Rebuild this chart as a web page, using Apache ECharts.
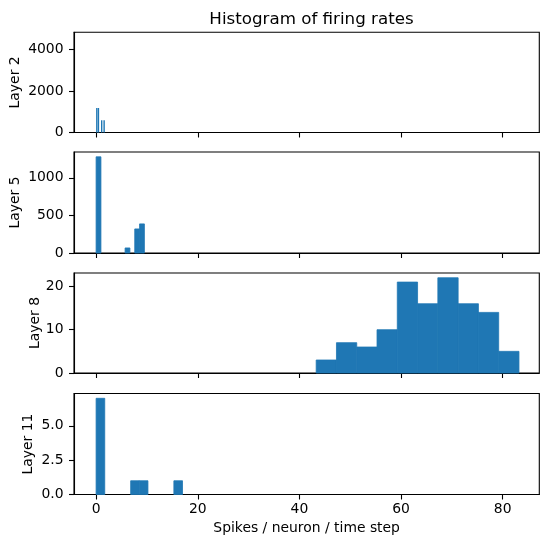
<!DOCTYPE html>
<html>
<head>
<meta charset="utf-8">
<script src="https://cdn.jsdelivr.net/npm/echarts@6/dist/echarts.min.js"></script>
<style>
html,body{margin:0;padding:0;background:#fff;}
#chart{width:549px;height:547px;}
</style>
</head>
<body>
<div id="chart"></div>
<script>
// ---- data ----
const layerNames = ['Layer 2', 'Layer 5', 'Layer 8', 'Layer 11'];

const edgesL2 = [0, 0.16, 0.32, 0.48, 0.64, 0.80, 0.96, 1.12, 1.28, 1.44, 1.60];
const countsL2 = [1180, 0, 1180, 0, 0, 0, 590, 0, 0, 590];

const edgesL5 = [0, 0.95, 1.9, 2.85, 3.8, 4.75, 5.7, 6.65, 7.6, 8.55, 9.5];
const countsL5 = [1280, 0, 0, 0, 0, 0, 67, 0, 320, 387];

const edgesL8 = [43.3, 47.29, 51.28, 55.27, 59.26, 63.25, 67.24, 71.23, 75.22, 79.21, 83.2];
const countsL8 = [3, 7, 6, 10, 21, 16, 22, 16, 14, 5];

const edgesL11 = [0, 1.7, 3.4, 5.1, 6.8, 8.5, 10.2, 11.9, 13.6, 15.3, 17.0];
const countsL11 = [7, 0, 0, 0, 1, 1, 0, 0, 0, 1];

const xTicks = [0, 20, 40, 60, 80];
const yTickSteps = [2000, 500, 10, 2.5];

const yMaxes = [4830, 1344, 23.1, 7.35];
const xMin = -4.35, xMax = 87.2;

// ---- build ----
const edgesAll = [edgesL2, edgesL5, edgesL8, edgesL11];
const countsAll = [countsL2, countsL5, countsL8, countsL11];
const yFormat = [v => String(v), v => String(v), v => String(v), v => v.toFixed(1)];

const gridTops = [32.3, 152, 273, 393.5];
const gridHeights = [100.2, 101, 100, 101];
const nameGaps = [52, 52, 32, 39];
const FONT = 'DejaVu Sans';
const BLUE = '#1f77b4';

const grids = [], xAxes = [], yAxes = [], series = [];
for (let i = 0; i < 4; i++) {
  grids.push({left: 74, right: 9.7, top: gridTops[i], height: gridHeights[i],
    show: true, borderColor: '#000', borderWidth: 1.1, containLabel: false,
    outerBoundsMode: 'none'});
  const last = i === 3;
  xAxes.push({
    gridIndex: i, type: 'value', min: xMin, max: xMax, position: 'bottom',
    axisLine: {show: true, onZero: false, lineStyle: {color: '#000', width: 1.1}},
    splitLine: {show: false},
    axisTick: {show: true, inside: false, length: 5, customValues: xTicks,
      lineStyle: {color: '#000', width: 1.1}},
    axisLabel: {show: last, customValues: xTicks, margin: 8, color: '#000',
      fontFamily: FONT, fontSize: 13.9},
    name: last ? 'Spikes / neuron / time step' : '',
    nameLocation: 'middle', nameGap: 27, nameMoveOverlap: false,
    nameTextStyle: {color: '#000', fontFamily: FONT, fontSize: 13.9}
  });
  yAxes.push({
    gridIndex: i, type: 'value', min: 0, max: yMaxes[i], interval: yTickSteps[i],
    position: 'left',
    axisLine: {show: true, onZero: false, lineStyle: {color: '#000', width: 1.1}},
    splitLine: {show: false},
    axisTick: {show: true, inside: false, length: 5,
      lineStyle: {color: '#000', width: 1.1}},
    axisLabel: {show: true, showMaxLabel: false, margin: 10.5, color: '#000',
      fontFamily: FONT, fontSize: 13.9, formatter: yFormat[i]},
    name: layerNames[i], nameLocation: 'middle', nameGap: nameGaps[i], nameRotate: 90,
    nameMoveOverlap: false,
    nameTextStyle: {color: '#000', fontFamily: FONT, fontSize: 13.9}
  });
  const edges = edgesAll[i], counts = countsAll[i];
  const data = counts.map((c, k) => [edges[k], edges[k + 1], c]);
  series.push({
    type: 'custom', xAxisIndex: i, yAxisIndex: i, data: data, silent: true,
    renderItem: function (params, api) {
      const p0 = api.coord([api.value(0), 0]);
      const p1 = api.coord([api.value(1), api.value(2)]);
      let w = p1[0] - p0[0];
      const thin = w < 3;
      if (w < 1.4) w = 1.4;
      const h = p0[1] - p1[1];
      if (h <= 0) return null;
      return {type: 'rect', shape: {x: p0[0], y: p1[1], width: w, height: h},
        style: thin ? {fill: BLUE} : {fill: BLUE, stroke: BLUE, lineWidth: 0.8}};
    }
  });
}

const chart = echarts.init(document.getElementById('chart'), null, {renderer: 'canvas'});
chart.setOption({
  animation: false,
  backgroundColor: '#fff',
  title: {text: 'Histogram of firing rates', left: 306.5, textAlign: 'center', top: 6,
    textStyle: {color: '#000', fontFamily: FONT, fontSize: 16.7, fontWeight: 'normal'}},
  grid: grids, xAxis: xAxes, yAxis: yAxes, series: series
});
</script>
</body>
</html>
